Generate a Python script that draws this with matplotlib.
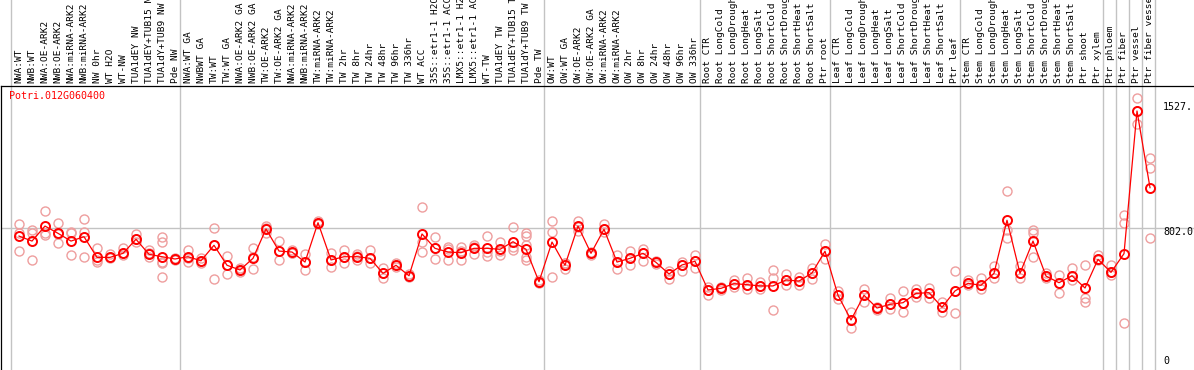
import matplotlib
matplotlib.use("Agg")
import matplotlib.pyplot as plt
import matplotlib.transforms as mtransforms

# sample names, left to right
labels = ["NWA:WT", "NWB:WT", "NWA:OE-ARK2", "NWB:OE-ARK2", "NWA:miRNA-ARK2", "NWB:miRNA-ARK2",
          "NW 0hr", "WT H2O", "WT-NW", "TUA1dEY NW", "TUA1dEY+TUB15 NW", "TUA1dY+TUB9 NW", "Pde NW",
          "NWA:WT GA", "NWBWT GA", "TW:WT", "TW:WT GA", "NWA:OE-ARK2 GA", "NWB:OE-ARK2 GA",
          "TW:OE-ARK2", "TW:OE-ARK2 GA", "NWA:miRNA-ARK2", "NWB:miRNA-ARK2", "TW:miRNA-ARK2",
          "TW:miRNA-ARK2", "TW 2hr", "TW 8hr", "TW 24hr", "TW 48hr", "TW 96hr", "TW 336hr", "WT ACC",
          "35S::etr1-1 H2O", "35S::etr1-1 ACC", "LMX5::etr1-1 H2O", "LMX5::etr1-1 ACC", "WT-TW",
          "TUA1dEY TW", "TUA1dEY+TUB15 TW", "TUA1dY+TUB9 TW", "Pde TW",
          "OW:WT", "OW:WT GA", "OW:OE-ARK2", "OW:OE-ARK2 GA", "OW:miRNA-ARK2", "OW:miRNA-ARK2",
          "OW 2hr", "OW 8hr", "OW 24hr", "OW 48hr", "OW 96hr", "OW 336hr",
          "Root CTR", "Root LongCold", "Root LongDrought", "Root LongHeat", "Root LongSalt",
          "Root ShortCold", "Root ShortDrought", "Root ShortHeat", "Root ShortSalt", "Ptr root",
          "Leaf CTR", "Leaf LongCold", "Leaf LongDrought", "Leaf LongHeat", "Leaf LongSalt",
          "Leaf ShortCold", "Leaf ShortDrought", "Leaf ShortHeat", "Leaf ShortSalt", "Ptr leaf",
          "Stem CTR", "Stem LongCold", "Stem LongDrought", "Stem LongHeat", "Stem LongSalt",
          "Stem ShortCold", "Stem ShortDrought", "Stem ShortHeat", "Stem ShortSalt", "Ptr shoot",
          "Ptr xylem", "Ptr phloem", "Ptr fiber", "Ptr vessel", "Ptr fiber vessel"]

means = [752, 721, 814, 769, 721, 748, 620, 620, 645, 732, 639, 624, 610,
         624, 599, 695, 571, 542, 614, 796, 659, 653, 591, 835, 604, 624, 624, 614, 521, 571, 506,
         765, 676, 653, 649, 676, 676, 670, 717, 670, 469,
         715, 571, 814, 645, 794, 591, 614, 645, 589, 517, 573, 596,
         418, 428, 457, 451, 443, 443, 480, 473, 523, 658,
         385, 232, 385, 306, 329, 339, 397, 401, 311, 412,
         459, 447, 521, 850, 521, 721, 504, 463, 506, 430, 608,
         527, 643, 1527, 1052]

reps = [[827, 770, 659], [790, 771, 604], [905, 773, 759], [835, 707, 765], [779, 769, 635],
        [856, 779, 620], [676, 604, 593], [641, 624, 614], [676, 649, 635], [763, 732, 717],
        [666, 645, 624], [744, 717, 593, 583, 500], [616, 610, 604],
        [666, 614, 593], [616, 597, 585], [800, 697, 484], [628, 515, 573], [554, 542, 529],
        [676, 546, 622], [814, 800, 771], [721, 604, 659], [666, 645, 647], [641, 542, 591],
        [845, 833, 827], [649, 562, 604], [666, 587, 620], [641, 604, 628], [666, 583, 616],
        [552, 490, 521], [587, 571, 560], [517, 506, 498], [930, 717, 655], [744, 608, 676],
        [686, 604, 672], [686, 604, 657], [697, 686, 641], [752, 628, 653], [715, 633, 661],
        [810, 686, 666], [769, 752, 697, 624, 604], [480, 467, 461],
        [847, 775, 500], [583, 546, 584], [847, 810, 785], [653, 647, 635], [825, 779, 794],
        [635, 546, 591], [659, 571, 614], [672, 597, 645], [597, 591, 579], [537, 488, 517],
        [593, 537, 573], [635, 556, 596],
        [438, 387, 418], [438, 418, 428], [480, 434, 457], [494, 422, 451], [469, 422, 442],
        [542, 490, 294], [515, 449, 480], [500, 449, 473], [552, 484, 523], [701, 608, 657],
        [413, 360, 385], [283, 184, 232], [422, 345, 385], [314, 306, 294], [370, 298, 329],
        [411, 283, 339], [422, 376, 397], [428, 370, 401], [345, 279, 310], [535, 277, 411],
        [480, 449, 459], [494, 422, 447], [566, 490, 521], [1029, 738, 790], [568, 490, 521],
        [790, 769, 620], [521, 490, 504], [511, 397, 463], [552, 480, 506], [573, 366, 345],
        [635, 604, 608],
        [573, 511, 527], [882, 831, 211], [1606, 1445, 1527], [1234, 1172, 738]]

# group separators come after these sample indices
group_ends = [-1, 12, 40, 52, 62, 72, 83, 84, 85, 86, 87]
ref_value = 802.0
max_value = 1527
gene = "Potri.012G060400"

mono = "DejaVu Sans Mono"
grey = "#c3c3c3"

fig = plt.figure(figsize=(11.94, 3.70), dpi=100)
ax = fig.add_axes([1 / 1194, 0, 1193 / 1194, 284 / 370])

# replicates first, then the mean line on top
for i, r in enumerate(reps):
    ax.plot([i] * len(r), r, "o", mfc="none", mec="#ee9e9e", ms=6.5, mew=1.0, zorder=2)
xs = list(range(len(means)))
ax.plot(xs, means, "-", color="red", lw=0.9, zorder=3)
ax.plot(xs, means, "o", mfc="none", mec="red", ms=6.5, mew=1.4, zorder=4)

ax.set_xlim(-1.385, 90.385)
ax.set_ylim(-78, 1682)
ax.set_xticks([])
ax.set_yticks([])
for side in ["right", "bottom"]:
    ax.spines[side].set_visible(False)
for side in ["left", "top"]:
    ax.spines[side].set_color("black")
    ax.spines[side].set_linewidth(0.9)

for g in group_ends:
    ax.axvline(g + 0.42, ymin=0, ymax=370 / 284, color=grey, lw=1, clip_on=False, zorder=0)
ax.axhline(ref_value, color=grey, lw=1, zorder=0)

# rotated sample names above the frame
tr = mtransforms.blended_transform_factory(ax.transData, ax.transAxes)
for i, lab in enumerate(labels):
    ax.text(i, 1 + 3 / 284, lab, rotation=90, ha="center", va="bottom", transform=tr,
            fontsize=6.8, family=mono, clip_on=False)

ax.text(8 / 1193, 1 - 5 / 284, gene, color="red", transform=ax.transAxes,
        ha="left", va="top", fontsize=7.2, family=mono)

# value labels on the right
tr2 = mtransforms.blended_transform_factory(ax.transAxes, ax.transData)
xr = (1163 - 1) / 1193
ax.annotate("1527.", xy=(xr, max_value), xycoords=tr2, xytext=(0, 4),
            textcoords="offset pixels", ha="left", va="center", fontsize=7.2, family=mono)
ax.annotate("802.0", xy=(xr, ref_value), xycoords=tr2, xytext=(0, -4),
            textcoords="offset pixels", ha="left", va="center", fontsize=7.2, family=mono)
ax.annotate("0", xy=(xr, 0), xycoords=tr2, xytext=(0, -4),
            textcoords="offset pixels", ha="left", va="center", fontsize=7.2, family=mono)

fig.savefig("out.png", dpi=100)
